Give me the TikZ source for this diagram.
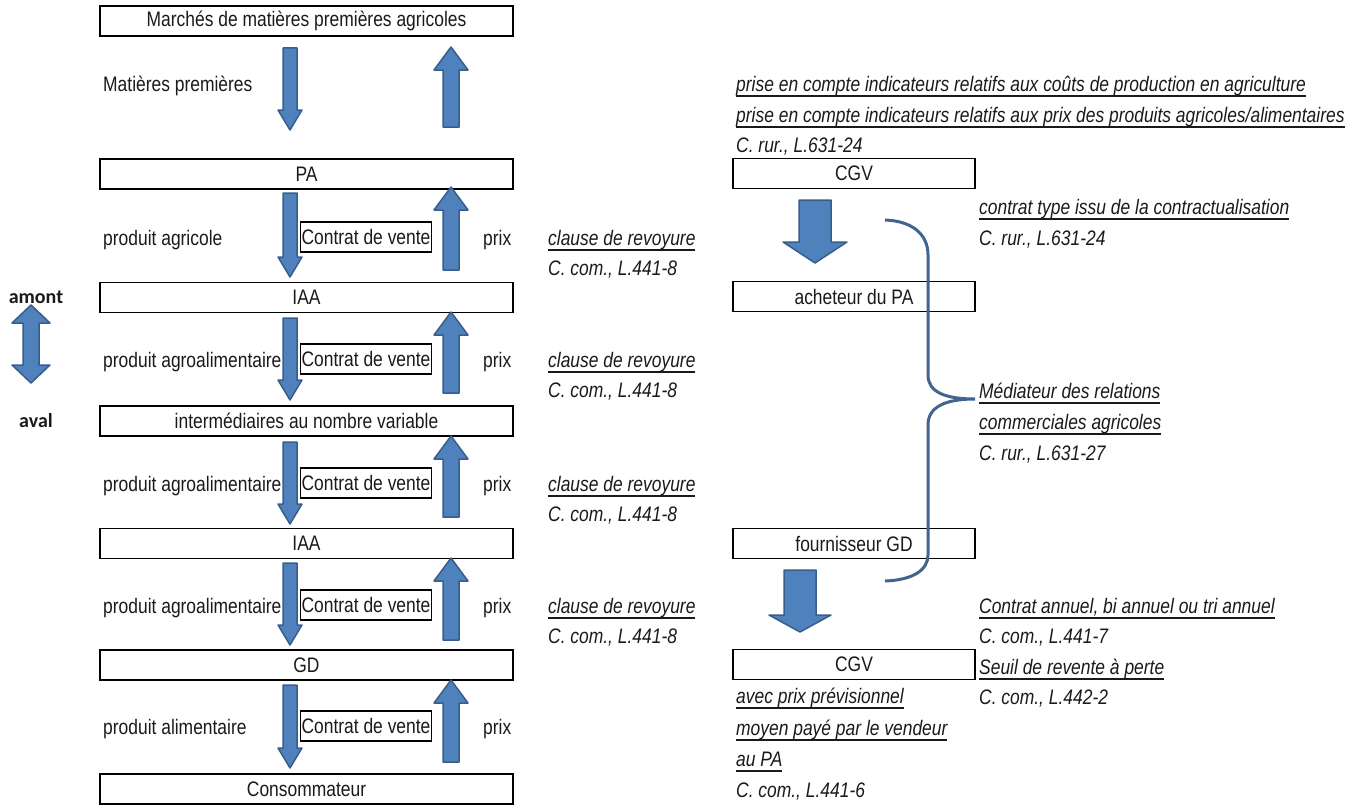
\documentclass[tikz,border=0pt]{standalone}
\usepackage{fontspec}
\setmainfont{Liberation Sans}[FakeStretch=0.83]
\newfontfamily\calfont{Carlito}
\definecolor{arrfill}{HTML}{4F81BD}
\definecolor{arrline}{HTML}{385D8A}
\definecolor{bracec}{RGB}{65,100,145}
\definecolor{txt}{HTML}{1A1A1A}
\newcommand\ulin[1]{\leavevmode\setbox0=\hbox{#1}\rlap{\rule[-5.5bp]{\wd0}{1.5bp}}\box0}
\newcommand\dnarr[6]{\draw[blockarr] ({#1-#4},#2) -- ({#1+#4},#2) -- ({#1+#4},{#3-#6}) -- ({#1+#5},{#3-#6}) -- (#1,#3) -- ({#1-#5},{#3-#6}) -- ({#1-#4},{#3-#6}) -- cycle;}
\newcommand\uparr[6]{\draw[blockarr] ({#1-#4},#3) -- ({#1+#4},#3) -- ({#1+#4},{#2+#6}) -- ({#1+#5},{#2+#6}) -- (#1,#2) -- ({#1-#5},{#2+#6}) -- ({#1-#4},{#2+#6}) -- cycle;}
\begin{document}
\begin{tikzpicture}[x=1bp,y=-1bp,
  every node/.style={font=\fontsize{21bp}{25bp}\selectfont, text=txt},
  lbox/.style={draw=black, line width=1.3bp, minimum width=413bp, minimum height=30bp, inner sep=0pt},
  rbox/.style={draw=black, line width=1.3bp, minimum width=242bp, minimum height=30bp, inner sep=0pt},
  cbox/.style={draw=black, line width=1.1bp, minimum width=131bp, minimum height=30bp, inner sep=0pt},
  lab/.style={anchor=base west, inner sep=0pt},
  ilab/.style={anchor=base west, inner sep=0pt, font=\fontsize{21bp}{25bp}\selectfont\itshape},
  blockarr/.style={fill=arrfill, draw=arrline, line width=1.5bp, line join=round},
  brace/.style={draw=bracec, line width=3bp}]
\useasboundingbox (0,0) rectangle (1362,807);
% left column boxes
\node[lbox] (mkt) at (306.5,21) {Marchés de matières premières agricoles};
\node[lbox] (pa) at (306.5,174) {PA};
\node[lbox] (iaa1) at (306.5,297.5) {IAA};
\node[lbox] (inter) at (306.5,421) {intermédiaires au nombre variable};
\node[lbox] (iaa2) at (306.5,543.5) {IAA};
\node[lbox] (gd) at (306.5,665) {GD};
\node[lbox] (cons) at (306.5,789) {Consommateur};
% right column boxes
\node[rbox] (cgv1) at (854,173.5) {CGV};
\node[rbox] (ach) at (854,296.5) {acheteur du PA};
\node[rbox] (four) at (854,543.5) {fournisseur GD};
\node[rbox] (cgv2) at (854,664.5) {CGV};
% block arrows, left column
\dnarr{290}{48}{130}{7}{12}{20}
\uparr{451}{47}{127}{8}{17}{23}
\dnarr{290}{193}{277}{7}{12}{20}
\uparr{451}{187}{270}{8}{17}{23}
\dnarr{290}{318}{400}{7}{12}{20}
\uparr{451}{312}{393}{8}{17}{23}
\dnarr{290}{442}{524}{7}{12}{20}
\uparr{451}{436}{517}{8}{17}{23}
\dnarr{290}{563}{645}{7}{12}{20}
\uparr{451}{558}{640}{8}{17}{23}
\dnarr{290}{685}{768}{7}{12}{20}
\uparr{451}{680}{762}{8}{17}{23}
% right column arrows
\dnarr{815}{200}{263}{16}{32}{21}
\dnarr{800}{570}{632}{16}{31}{17}
% amont/aval double arrow
\draw[blockarr] (23,323) -- (23,365) -- (12,365) -- (31,383) -- (50,365) -- (39,365) -- (39,323) -- (50,323) -- (31,305) -- (12,323) -- cycle;
\node[inner sep=0pt, font=\calfont\bfseries\fontsize{20bp}{24bp}\selectfont] (amont) at (36,297) {amont};
\node[inner sep=0pt, font=\calfont\bfseries\fontsize{20bp}{24bp}\selectfont] (aval) at (36,421) {aval};
% left labels
\node[lab] (mp) at (103,91) {Matières premières};
\node[lab] (l1) at (103,245) {produit agricole};
\node[lab] (l2) at (103,367) {produit agroalimentaire};
\node[lab] (l3) at (103,491) {produit agroalimentaire};
\node[lab] (l4) at (103,613) {produit agroalimentaire};
\node[lab] (l5) at (103,734) {produit alimentaire};
\foreach \r/\n in {237/1,359/2,483/3,605/4,726/5}{
  \node[cbox] (cv\n) at (366,\r) {Contrat de vente};
  \node[lab] (px\n) at (483,\r+8) {prix};
}
\foreach \r/\n in {245/1,367/2,491/3,613/4}{
  \node[ilab] (cl\n) at (548,\r) {\ulin{clause de revoyure}};
  \node[ilab] (cc\n) at (548,\r+30) {C. com., L.441-8};
}
% right texts
\node[ilab] (t1) at (736,91) {\ulin{prise en compte indicateurs relatifs aux coûts de production en agriculture}};
\node[ilab] (t2) at (736,122) {\ulin{prise en compte indicateurs relatifs aux prix des produits agricoles/alimentaires}};
\node[ilab] (t3) at (736,152) {C. rur., L.631-24};
\node[ilab] (t4) at (979,214) {\ulin{contrat type issu de la contractualisation}};
\node[ilab] (t5) at (979,245) {C. rur., L.631-24};
\node[ilab] (t6) at (979,398) {\ulin{Médiateur des relations}};
\node[ilab] (t7) at (979,429) {\ulin{commerciales agricoles}};
\node[ilab] (t8) at (979,460) {C. rur., L.631-27};
\node[ilab] (t9) at (979,613) {\ulin{Contrat annuel, bi annuel ou tri annuel}};
\node[ilab] (t10) at (979,643) {C. com., L.441-7};
\node[ilab] (t11) at (979,674) {\ulin{Seuil de revente à perte}};
\node[ilab] (t12) at (979,704) {C. com., L.442-2};
\node[ilab] (t13) at (736,703) {\ulin{avec prix prévisionnel}};
\node[ilab] (t14) at (736,735) {\ulin{moyen payé par le vendeur}};
\node[ilab] (t15) at (736,766) {\ulin{au PA}};
\node[ilab] (t16) at (736,797) {C. com., L.441-6};
% brace
\draw[brace] (885,220) .. controls (912,221) and (928,234) .. (928,255) -- (928,375) .. controls (928,392) and (945,399) .. (975,399) .. controls (945,399) and (928,407) .. (928,425) -- (928,555) .. controls (928,570) and (913,580) .. (885,581);
\end{tikzpicture}
\end{document}
